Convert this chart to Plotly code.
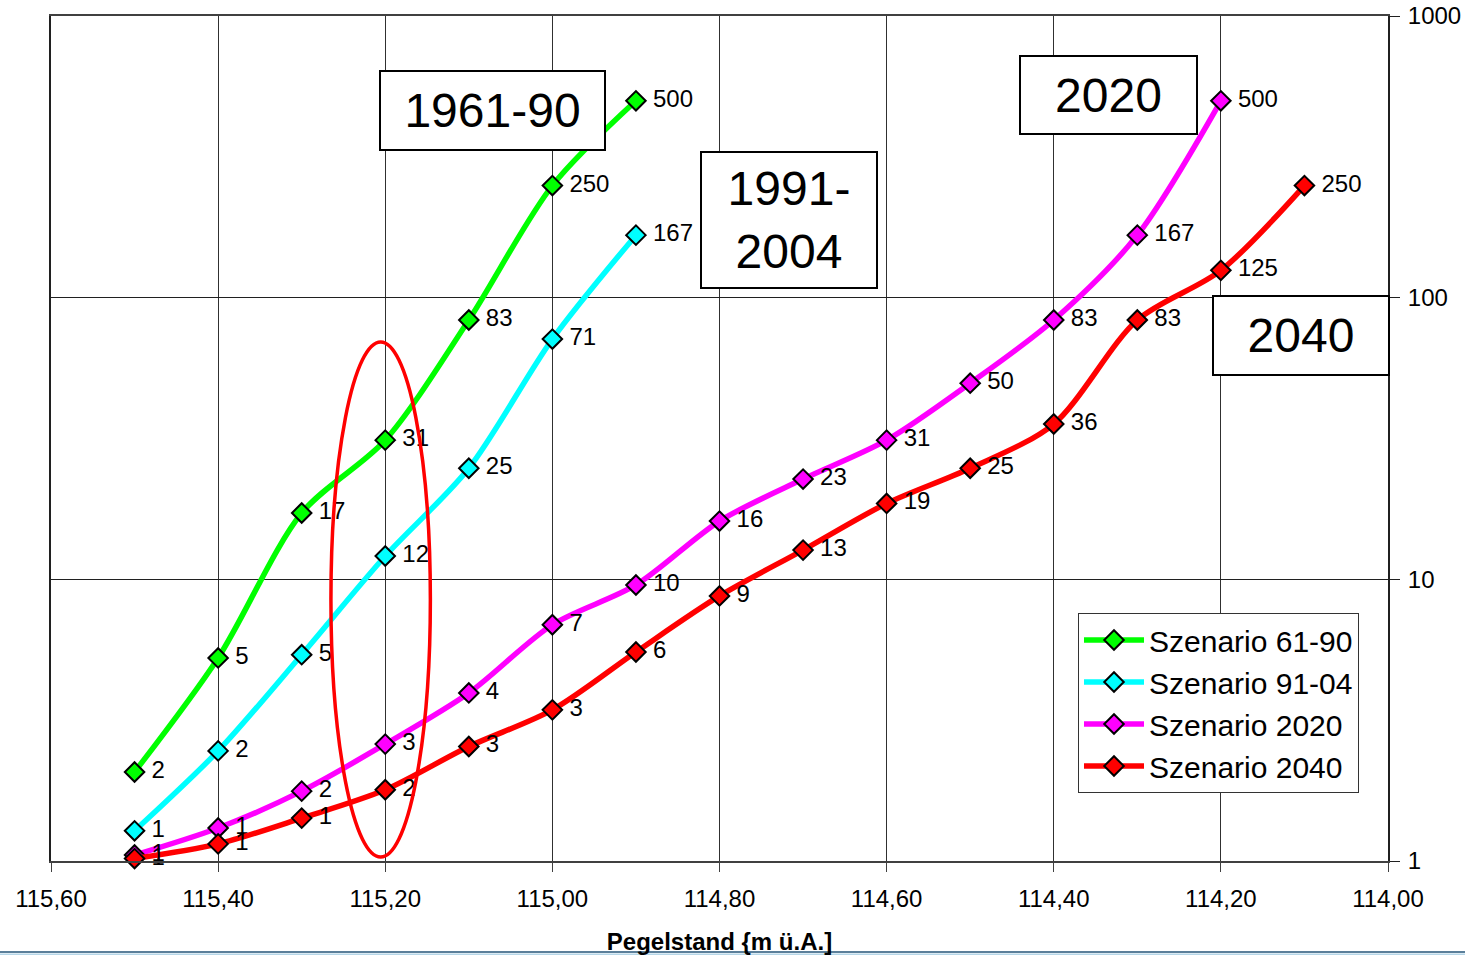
import plotly.graph_objects as go

# Pegelstand (m ü.A.) and return-period values for each scenario
x_hist = [115.50, 115.40, 115.30, 115.20, 115.10, 115.00, 114.90]
y_6190 = [2.07, 5.26, 17.2, 31.2, 83.3, 250, 500]
y_9104 = [1.28, 2.46, 5.4, 12.1, 24.8, 71.3, 166.7]

x_2020 = [115.50, 115.40, 115.30, 115.20, 115.10, 115.00, 114.90,
          114.80, 114.70, 114.60, 114.50, 114.40, 114.30, 114.20]
y_2020 = [1.05, 1.31, 1.77, 2.6, 3.95, 6.9, 9.55,
          16.1, 22.7, 31.2, 49.7, 83.3, 166.7, 500]

x_2040 = [115.50, 115.40, 115.30, 115.20, 115.10, 115.00, 114.90, 114.80,
          114.70, 114.60, 114.50, 114.40, 114.30, 114.20, 114.10]
y_2040 = [1.02, 1.15, 1.42, 1.79, 2.55, 3.44, 5.52, 8.73,
          12.7, 18.6, 24.8, 35.6, 83.3, 125, 250]

series_names = ["Szenario 61-90", "Szenario 91-04", "Szenario 2020", "Szenario 2040"]
series_colors = ["#00ff00", "#00ffff", "#ff00ff", "#ff0000"]

x_ticks = [115.60, 115.40, 115.20, 115.00, 114.80, 114.60, 114.40, 114.20, 114.00]
y_ticks = [1, 10, 100, 1000]
y_ticktext = ["1", "10", "100", "1000"]

box_labels = ["1961-90", "1991-<br>2004", "2020", "2040"]

FONT = "Liberation Sans, Arial, sans-serif"
W, H = 1465, 955
L, R, T, B = 51, 77, 16, 94
PW, PH = W - L - R, H - T - B


def px(xp):
    return (xp - L) / PW


def py(yp):
    return (H - B - yp) / PH


fig = go.Figure()
for xs, ys, name, col in zip([x_hist, x_hist, x_2020, x_2040],
                             [y_6190, y_9104, y_2020, y_2040],
                             series_names, series_colors):
    fig.add_trace(go.Scatter(
        x=xs, y=ys, name=name, mode="lines+markers+text",
        line=dict(color=col, width=5.5, shape="spline", smoothing=0.85),
        marker=dict(symbol="diamond", size=15, color=col,
                    line=dict(color="black", width=2)),
        texttemplate="\u00a0%{y:.0f}", textposition="middle right",
        textfont=dict(family=FONT, size=24, color="black"),
        cliponaxis=False,
    ))

# Boxed period labels
boxes = [
    (box_labels[0], 380, 605, 71, 150),
    (box_labels[1], 701, 877, 152, 288),
    (box_labels[2], 1020, 1197, 56, 134),
    (box_labels[3], 1213, 1389, 296, 375),
]
for txt, x0, x1, y0, y1 in boxes:
    fig.add_annotation(
        xref="paper", yref="paper", x=px((x0 + x1) / 2), y=py((y0 + y1) / 2),
        xanchor="center", yanchor="middle", text=txt, showarrow=False,
        width=x1 - x0 - 2, height=y1 - y0 - 2, borderpad=0, borderwidth=2,
        bordercolor="black", bgcolor="white", align="center",
        font=dict(family=FONT, size=48, color="black"),
    )

# Highlight ellipse around the 115,20 level
fig.add_shape(type="circle", xref="x", yref="paper",
              x0=115.265, x1=115.146, y0=py(857), y1=py(342),
              line=dict(color="#ff0000", width=3.5))

# Footer rule
fig.add_shape(type="line", xref="paper", yref="paper",
              x0=px(0), x1=px(W), y0=py(952), y1=py(952),
              line=dict(color="#5b7f9a", width=2))
fig.add_shape(type="line", xref="paper", yref="paper",
              x0=px(0), x1=px(W), y0=py(954.5), y1=py(954.5),
              line=dict(color="#b5d6e8", width=2))

fig.update_layout(
    width=W, height=H,
    margin=dict(l=L, r=R, t=T, b=B, pad=0, autoexpand=False),
    paper_bgcolor="white", plot_bgcolor="white",
    separators=", ",
    font=dict(family=FONT, size=24, color="black"),
    showlegend=True,
    legend=dict(
        x=px(1078), y=py(613), xanchor="left", yanchor="top",
        bgcolor="white", bordercolor="#333333", borderwidth=1,
        font=dict(family=FONT, size=30, color="black"),
        itemwidth=60,
    ),
    xaxis=dict(
        range=[115.60, 114.00], tickvals=x_ticks, tickformat=".2f",
        automargin=False,
        showgrid=True, gridcolor="#303030", gridwidth=1,
        showline=True, linecolor="#404040", linewidth=2, mirror=True,
        ticks="outside", ticklen=9, tickcolor="#404040",
        ticklabelstandoff=6,
        tickfont=dict(family=FONT, size=24, color="black"),
        zeroline=False,
        title=dict(text="<b>Pegelstand {m ü.A.]</b>",
                   font=dict(family=FONT, size=24, color="black"), standoff=26),
    ),
    yaxis=dict(
        type="log", range=[0, 3], side="right",
        automargin=False,
        tickvals=y_ticks, ticktext=y_ticktext,
        showgrid=True, gridcolor="#202020", gridwidth=1,
        showline=True, linecolor="#202020", linewidth=2, mirror=True,
        ticks="outside", ticklen=10, tickcolor="#202020",
        ticklabelstandoff=3,
        tickfont=dict(family=FONT, size=24, color="black"),
        zeroline=False,
    ),
)

fig.write_html("out.html")
